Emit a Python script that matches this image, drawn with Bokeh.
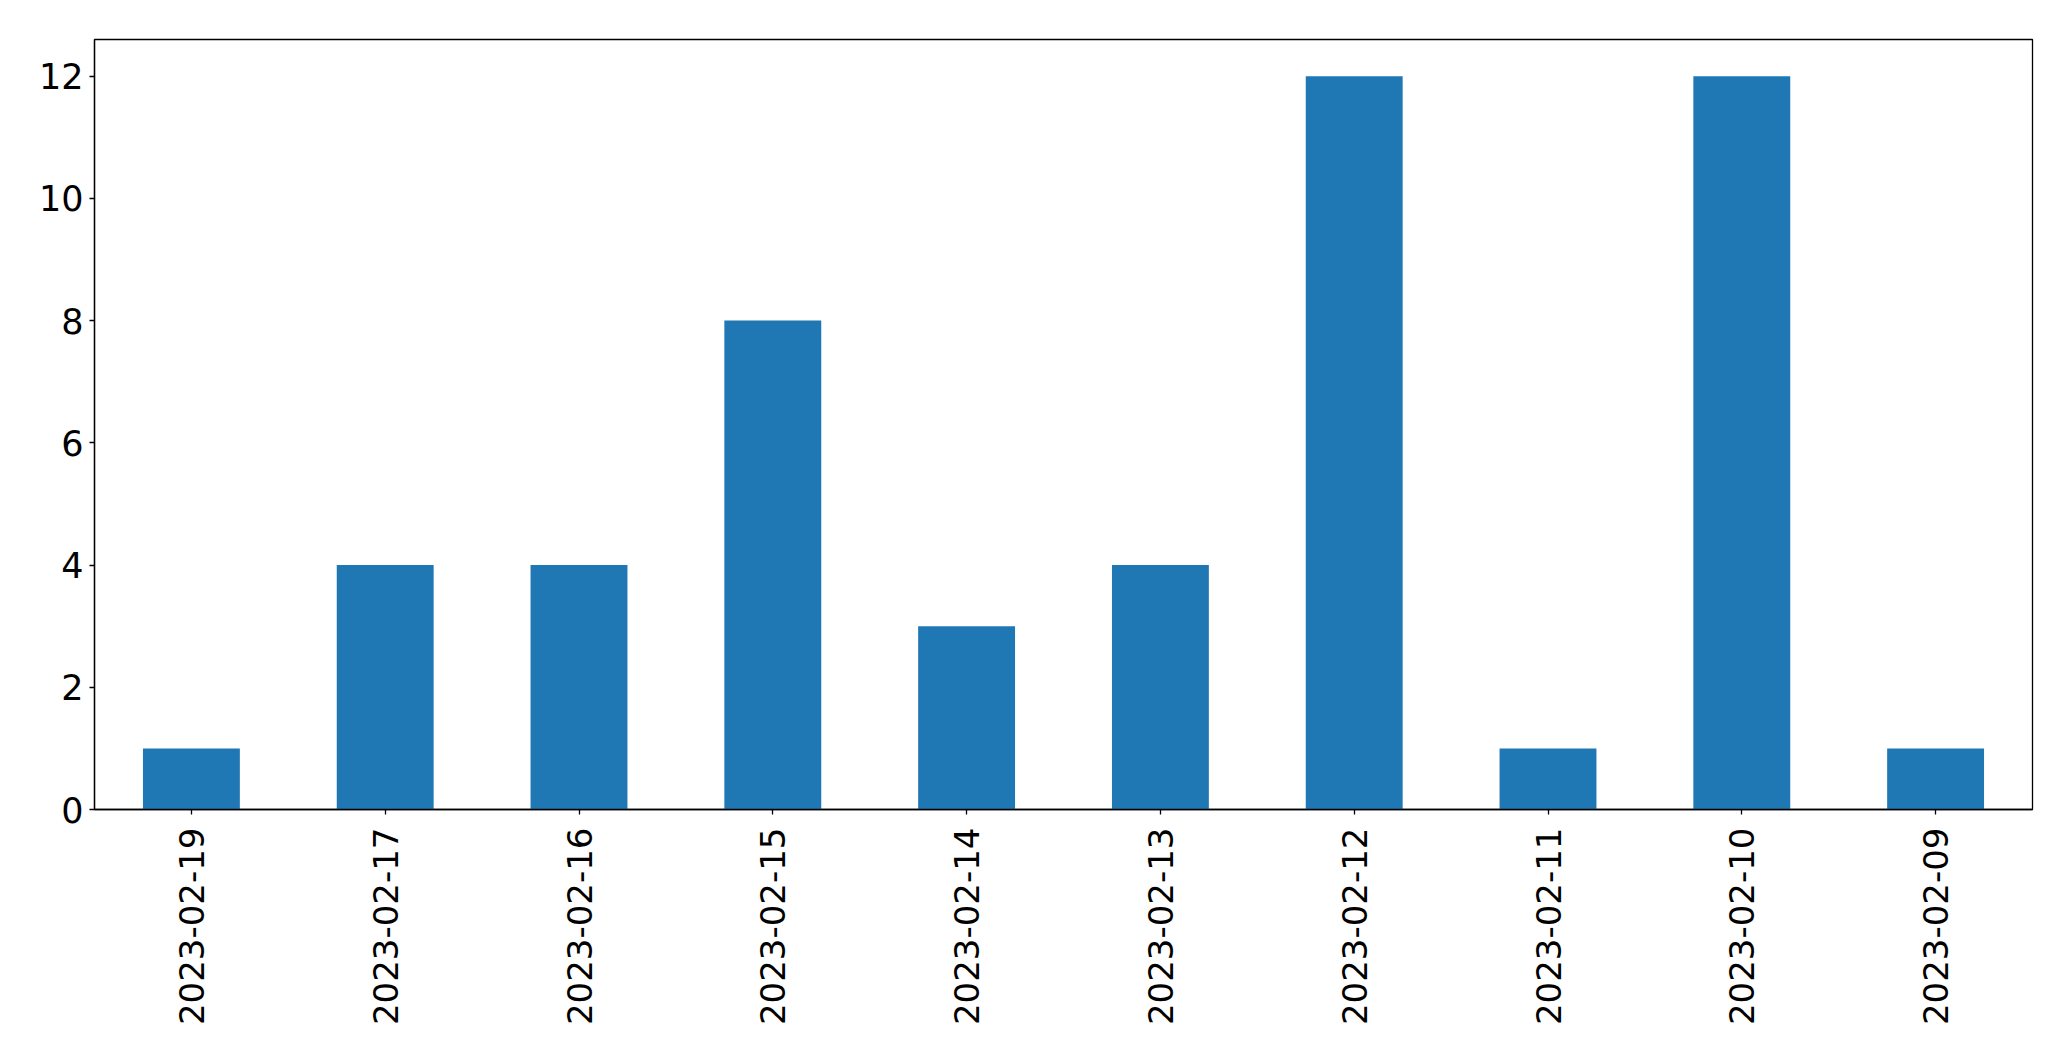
import math
from bokeh.plotting import figure
from bokeh.models import ColumnDataSource, FactorRange, Range1d, FixedTicker
from bokeh.embed import file_html
from bokeh.resources import INLINE

dates = ["2023-02-19", "2023-02-17", "2023-02-16", "2023-02-15", "2023-02-14",
         "2023-02-13", "2023-02-12", "2023-02-11", "2023-02-10", "2023-02-09"]
counts = [1, 4, 4, 8, 3, 4, 12, 1, 12, 1]
y_ticks = [0, 2, 4, 6, 8, 10, 12]

src = ColumnDataSource(dict(x=dates, top=counts))

p = figure(width=2055, height=1045, output_backend="svg", toolbar_location=None,
           x_range=FactorRange(*dates, range_padding=0), y_range=Range1d(0, 12.6),
           min_border_left=94, min_border_top=39, min_border_right=23, min_border_bottom=236)

p.vbar(x="x", top="top", width=0.5, bottom=0, source=src, color="#1f77b4", line_color=None)

p.xgrid.visible = False
p.ygrid.visible = False
p.outline_line_color = "black"
p.outline_line_width = 1.3
p.background_fill_color = "white"
p.border_fill_color = "white"

p.yaxis.ticker = FixedTicker(ticks=y_ticks)
for ax in (p.xaxis[0], p.yaxis[0]):
    ax.major_label_text_font = "DejaVu Sans"
    ax.major_label_text_color = "black"
    ax.axis_line_color = "black"
    ax.axis_line_width = 1.3
    ax.major_tick_line_color = "black"
    ax.major_tick_line_width = 1.3
    ax.major_tick_out = 5
    ax.major_tick_in = 0
    ax.minor_tick_line_color = None

p.xaxis.major_label_text_font_size = "34px"
p.yaxis.major_label_text_font_size = "35px"
p.xaxis.major_label_orientation = math.pi / 2
p.xaxis.major_label_standoff = 13
p.yaxis.major_label_standoff = 6

open("out.html", "w").write(file_html(p, INLINE))
